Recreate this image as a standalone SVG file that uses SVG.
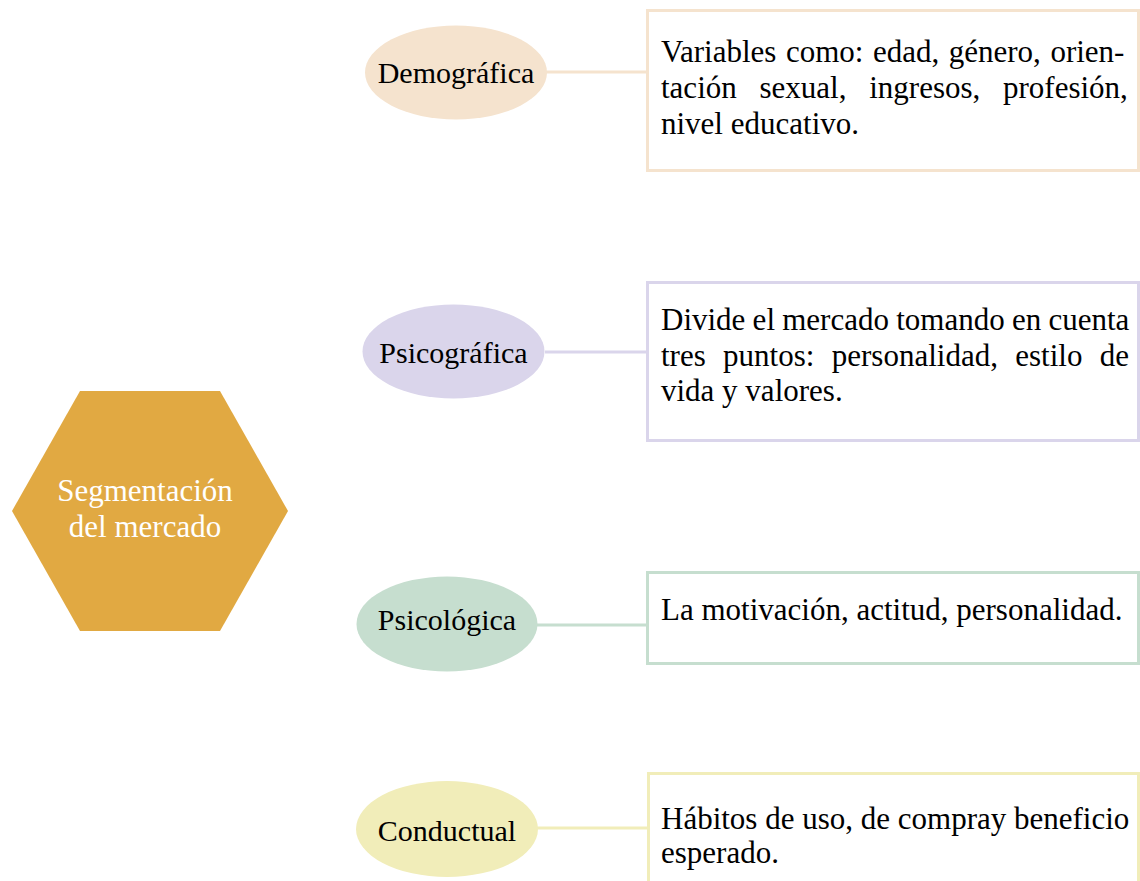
<svg xmlns="http://www.w3.org/2000/svg" width="1140" height="881" viewBox="0 0 1140 881">
<style>
.t{font-family:"Liberation Serif","Times New Roman",serif;fill:#000;}
.lbl{font-size:30px;text-anchor:middle;}
.box{font-size:31px;}
.c1{stroke:#F5E3CE;} .c2{stroke:#DAD5EB;} .c3{stroke:#C6DECF;} .c4{stroke:#F1EDB9;}
.bx{fill:#fff;stroke-width:3;}
.con line{stroke-width:3;}
</style>
<rect width="1140" height="881" fill="#fff"/>
<g id="connectors" class="con">
<line class="c1" x1="546" y1="72" x2="647" y2="72"/>
<line class="c2" x1="545" y1="352" x2="647" y2="352"/>
<line class="c3" x1="537" y1="625" x2="647" y2="625"/>
<line class="c4" x1="537" y1="828" x2="648" y2="828"/>
</g>
<g id="hub">
<polygon points="12,511 80,391 220,391 288,511 220,631 80,631" fill="#E1A942"/>
<text class="t" x="145" y="501" font-size="31" text-anchor="middle" style="fill:#fff">Segmentación</text>
<text class="t" x="145" y="537" font-size="31" text-anchor="middle" style="fill:#fff">del mercado</text>
</g>
<g id="demografica">
<ellipse cx="456" cy="72.5" rx="91" ry="47" fill="#F5E3CE"/>
<text class="t lbl" x="456" y="83">Demográfica</text>
</g>
<g id="psicografica">
<ellipse cx="453.5" cy="351.5" rx="91" ry="47" fill="#DAD5EB"/>
<text class="t lbl" x="453.5" y="363">Psicográfica</text>
</g>
<g id="psicologica">
<ellipse cx="447" cy="624" rx="90.5" ry="47.5" fill="#C6DECF"/>
<text class="t lbl" x="447" y="630">Psicológica</text>
</g>
<g id="conductual">
<ellipse cx="447" cy="829" rx="91" ry="48" fill="#F1EDB9"/>
<text class="t lbl" x="447" y="841">Conductual</text>
</g>
<g id="box-demografica">
<rect class="bx c1" x="647.5" y="10.5" width="491" height="160"/>
<text class="t box" x="661" y="62" style="word-spacing:1.8px">Variables como: edad, género, orien-</text>
<text class="t box" x="661" y="98" style="word-spacing:15px">tación sexual, ingresos, profesión,</text>
<text class="t box" x="661" y="134">nivel educativo.</text>
</g>
<g id="box-psicografica">
<rect class="bx c2" x="647.5" y="282.5" width="491" height="158"/>
<text class="t box" x="661" y="330" style="word-spacing:-0.5px">Divide el mercado tomando en cuenta</text>
<text class="t box" x="661" y="366" style="word-spacing:9.6px">tres puntos: personalidad, estilo de</text>
<text class="t box" x="661" y="401">vida y valores.</text>
</g>
<g id="box-psicologica">
<rect class="bx c3" x="647.5" y="572.5" width="491" height="91"/>
<text class="t box" x="661" y="620">La motivación, actitud, personalidad.</text>
</g>
<g id="box-conductual">
<rect class="bx c4" x="648.5" y="773.5" width="490" height="130"/>
<text class="t box" x="661" y="829">Hábitos de uso, de compray beneficio</text>
<text class="t box" x="661" y="863">esperado.</text>
</g>
</svg>
